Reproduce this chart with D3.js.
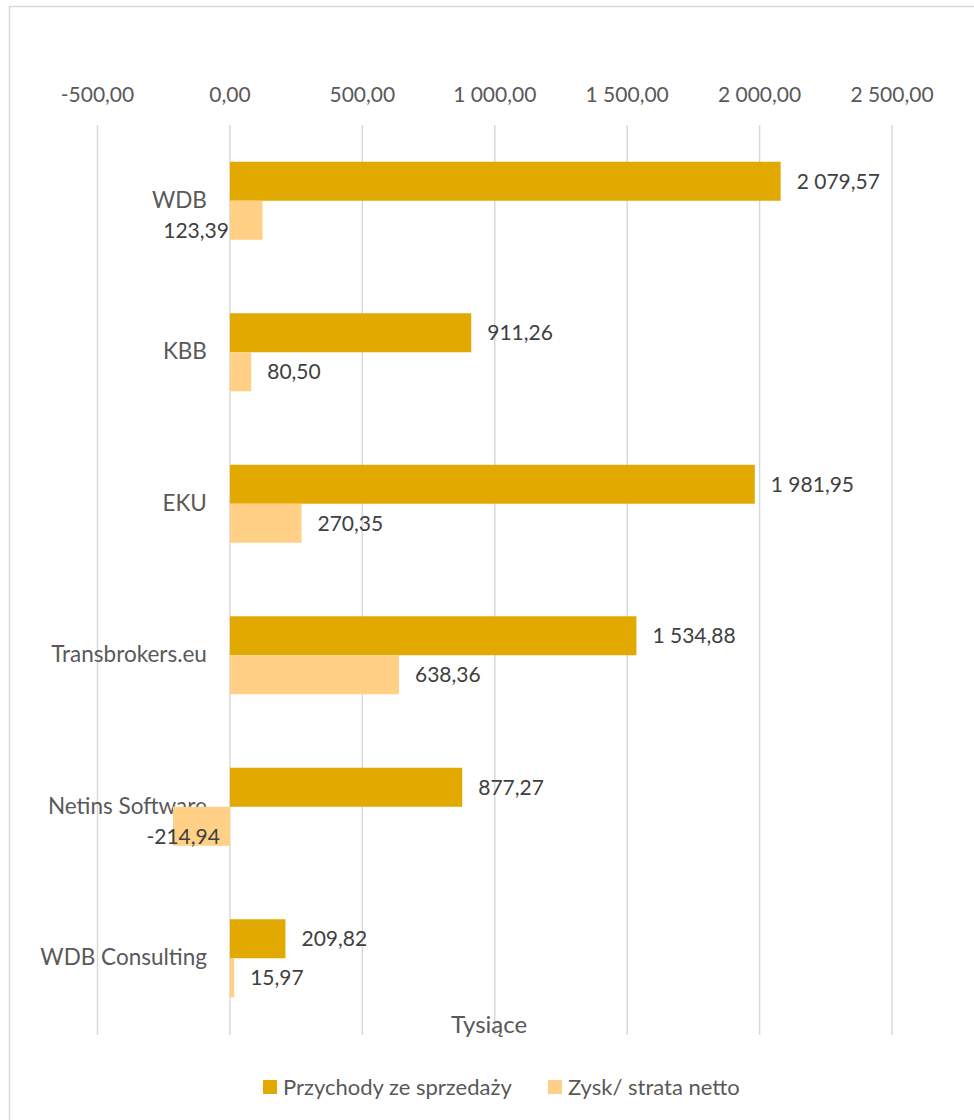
<!DOCTYPE html>
<html>
<head>
<meta charset="utf-8">
<script src="https://cdn.jsdelivr.net/npm/d3@7"></script>
<style>
  body { margin: 0; background: #fff; }
  svg { font-family: Lato, "Open Sans", sans-serif; }
</style>
</head>
<body>
<div id="chart"></div>
<script>
// data
var categories = ['WDB', 'KBB', 'EKU', 'Transbrokers.eu', 'Netins Software', 'WDB Consulting'];
var przychody = [2079.57, 911.26, 1981.95, 1534.88, 877.27, 209.82];
var zysk = [123.39, 80.50, 270.35, 638.36, -214.94, 15.97];
var seriesNames = ['Przychody ze sprzedaży', 'Zysk/ strata netto'];
var xTicks = [-500, 0, 500, 1000, 1500, 2000, 2500];
var axisTitle = 'Tysiące';
// labels Excel put on the left of the zero line
var leftLabels = ['WDB', 'Netins Software'];

var width = 974, height = 1120,
  colors = ['#e2aa00', '#ffd085'],
  textColor = '#595959',
  valueColor = '#404040',
  gridColor = '#d9d9d9';

var svg = d3.select('#chart').append('svg')
  .attr('width', width)
  .attr('height', height);

// chart area border (runs off the right and bottom edge)
svg.append('rect')
  .attr('x', 9.5).attr('y', 6.5)
  .attr('width', 1000).attr('height', 1200)
  .attr('fill', 'none')
  .attr('stroke', gridColor)
  .attr('stroke-width', 1.5);

var x = d3.scaleLinear().domain([-500, 2500]).range([97.5, 892]);
var y0 = d3.scaleBand().domain(categories).range([125, 1034]).padding(0);
var barH = 39;
var y1 = d3.scaleBand().domain([0, 1]).range([0, y0.bandwidth()])
  .paddingInner(0)
  .paddingOuter((y0.bandwidth() / barH - 2) / 2);

// gridlines
svg.append('g')
  .selectAll('line').data(xTicks).enter()
  .append('line')
  .attr('x1', function(d) { return x(d); })
  .attr('x2', function(d) { return x(d); })
  .attr('y1', 125).attr('y2', 1035)
  .attr('stroke', gridColor)
  .attr('stroke-width', 1.5);

// top axis labels
var fmt = function(v) {
  var s = d3.format(',.2f')(v);
  return s.replace(/,/g, ' ').replace('.', ',').replace('−', '-');
};

svg.append('g')
  .selectAll('text').data(xTicks).enter()
  .append('text')
  .attr('x', function(d) { return x(d); })
  .attr('y', 95)
  .attr('dy', '0.35em')
  .attr('text-anchor', 'middle')
  .attr('fill', textColor)
  .style('font-size', '21px')
  .text(fmt);

// category labels
svg.append('g')
  .selectAll('text').data(categories).enter()
  .append('text')
  .attr('x', x(0) - 23)
  .attr('y', function(d) { return y0(d) + y0.bandwidth() / 2 - 1; })
  .attr('dy', '0.35em')
  .attr('text-anchor', 'end')
  .attr('fill', textColor)
  .style('font-size', '22.5px')
  .text(function(d) { return d; });

var series = [przychody, zysk];

series.forEach(function(vals, s) {
  var rows = categories.map(function(c, i) { return { cat: c, value: vals[i] }; });
  var g = svg.append('g');

  g.selectAll('rect').data(rows).enter()
    .append('rect')
    .attr('x', function(d) { return x(Math.min(0, d.value)); })
    .attr('y', function(d) { return y0(d.cat) + y1(s); })
    .attr('width', function(d) { return Math.abs(x(d.value) - x(0)); })
    .attr('height', y1.bandwidth())
    .attr('fill', colors[s]);

  var isLeft = function(d) { return s === 1 && leftLabels.indexOf(d.cat) >= 0; };

  g.selectAll('text').data(rows).enter()
    .append('text')
    .attr('x', function(d) {
      if (isLeft(d)) return x(0) - (d.value < 0 ? 10 : 1);
      return x(Math.max(0, d.value)) + 16;
    })
    .attr('text-anchor', function(d) { return isLeft(d) ? 'end' : 'start'; })
    .attr('y', function(d) {
      return y0(d.cat) + y1(s) + y1.bandwidth() / 2 + (isLeft(d) ? 10 : 0);
    })
    .attr('dy', '0.35em')
    .attr('fill', valueColor)
    .style('font-size', '21px')
    .text(function(d) { return fmt(d.value); });
});

// axis title
svg.append('text')
  .attr('x', 489)
  .attr('y', 1025)
  .attr('dy', '0.35em')
  .attr('text-anchor', 'middle')
  .attr('fill', textColor)
  .style('font-size', '24px')
  .text(axisTitle);

// legend
var legendX = [263, 548];
var legend = svg.append('g').selectAll('g').data(seriesNames).enter()
  .append('g')
  .attr('transform', function(d, i) { return 'translate(' + legendX[i] + ',1080)'; });

legend.append('rect')
  .attr('width', 14).attr('height', 14)
  .attr('fill', function(d, i) { return colors[i]; });

legend.append('text')
  .attr('x', 20).attr('y', 7)
  .attr('dy', '0.35em')
  .attr('fill', textColor)
  .style('font-size', '22px')
  .text(function(d) { return d; });
</script>
</body>
</html>
